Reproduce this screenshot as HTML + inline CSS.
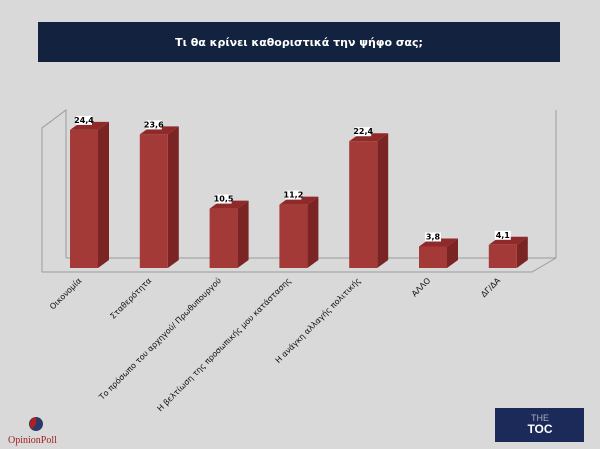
<!DOCTYPE html><html><head><meta charset="utf-8"><style>
body{margin:0;width:600px;height:449px;background:#d9d9d9;overflow:hidden;font-family:"Liberation Sans","DejaVu Sans",sans-serif}
</style></head><body>
<svg width="600" height="449" style="position:absolute;left:0;top:0">
<rect x="38" y="22" width="522" height="40" fill="#13233f"/>
<text x="299" y="46" fill="#fff" font-size="11" font-weight="bold" text-anchor="middle" font-family="DejaVu Sans,sans-serif">Τι θα κρίνει καθοριστικά την ψήφο σας;</text>
<g stroke="#9a9a9a" fill="none" stroke-width="1">
<polyline points="42,272 42,128 66,110 66,258"/>
<line x1="66" y1="258" x2="556" y2="258"/>
<line x1="556" y1="110" x2="556" y2="258"/>
<polyline points="42,272 532,272 556,258"/>
</g>
<g id="bars"></g>
<g font-size="8" fill="#111" font-family="DejaVu Sans,sans-serif" id="labs"></g>
<g>
<circle cx="36" cy="424" r="7" fill="#2e3a66"/>
<path d="M36,417 A7,7 0 0,0 32,429 L36,424Z" fill="#b02020"/>
<text x="8" y="443" font-size="10" fill="#a02020" font-family="Liberation Serif,serif">OpinionPoll</text>
<rect x="495" y="408" width="89" height="34" fill="#1c2a5a"/>
<text x="540" y="421" font-size="9" fill="#aab" text-anchor="middle">THE</text>
<text x="540" y="433" font-size="12" font-weight="bold" fill="#fff" text-anchor="middle">TOC</text>
</g>
</svg>
<script>
var d=[["Οικονομία",24.4],["Σταθερότητα",23.6],["Το πρόσωπο του αρχηγού/ Πρωθυπουργού",10.5],["Η βελτίωση της προσωπικής μου κατάστασης",11.2],["Η ανάγκη αλλαγής πολιτικής",22.4],["ΑΛΛΟ",3.8],["ΔΓ/ΔΑ",4.1]];
var b="",l="";
d.forEach(function(e,i){var x=70+i*69.8,w=28,bot=268,t=bot-e[1]*5.66,dx=11,dy=8;
b+='<polygon points="'+(x+w)+','+t+' '+(x+w+dx)+','+(t-dy)+' '+(x+w+dx)+','+(bot-dy)+' '+(x+w)+','+bot+'" fill="#7a2424"/>';
b+='<polygon points="'+x+','+t+' '+(x+dx)+','+(t-dy)+' '+(x+w+dx)+','+(t-dy)+' '+(x+w)+','+t+'" fill="#8e2a2a"/>';
b+='<rect x="'+x+'" y="'+t+'" width="'+w+'" height="'+(bot-t)+'" fill="#a43a38"/>';
var v=String(e[1]).replace(".",",");
b+='<rect x="'+(x+6)+'" y="'+(t-14)+'" width="16" height="9" fill="#fff"/><text x="'+(x+14)+'" y="'+(t-7)+'" font-size="8" font-weight="bold" text-anchor="middle" font-family="DejaVu Sans,sans-serif">'+v+'</text>';
l+='<text transform="translate('+(x+12)+',281) rotate(-45)" text-anchor="end">'+e[0]+'</text>';});
document.getElementById("bars").innerHTML=b;document.getElementById("labs").innerHTML=l;
</script>
</body></html>
